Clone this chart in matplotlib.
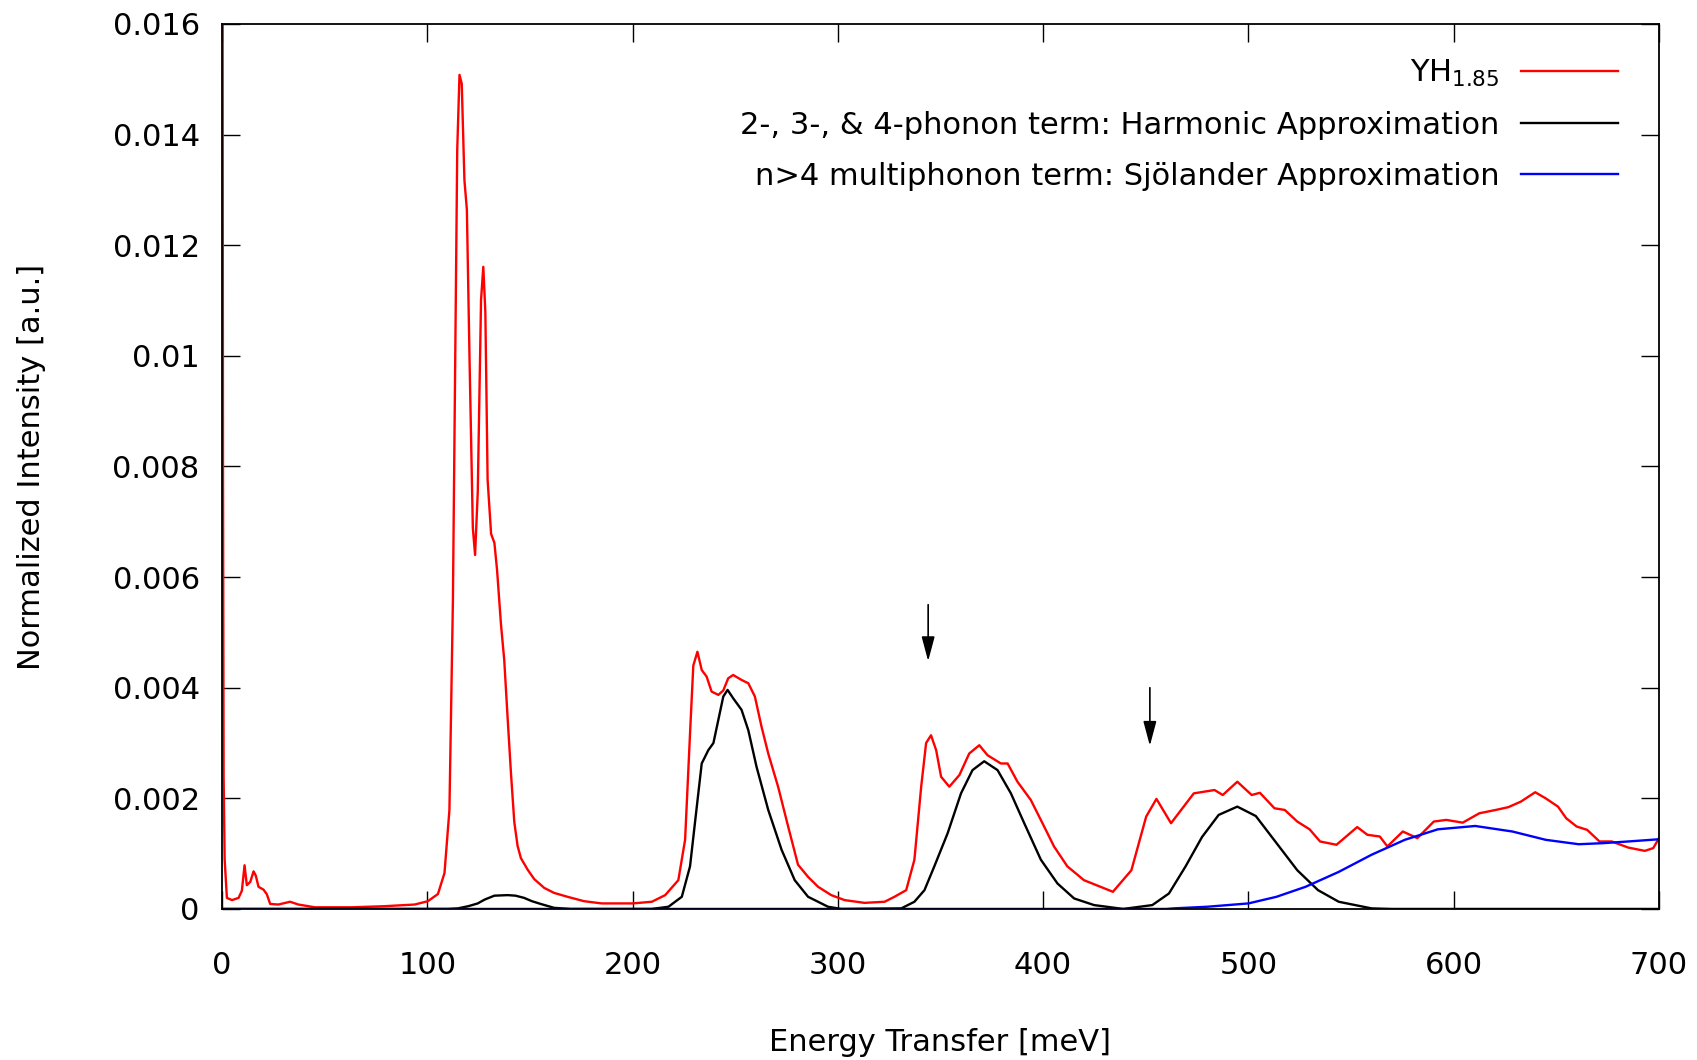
import numpy as np
import matplotlib
matplotlib.use("Agg")
import matplotlib.pyplot as plt

# measured spectrum YH1.85
red_x = [0, 0.5, 0.8, 1.3, 2.4, 4.9, 8.1, 9.7, 11, 12.1, 13.8, 15.4, 16.5, 17.8, 20.2, 21.8,
         23.5, 27.5, 33.2, 37.2, 45.3, 63.1, 79.3, 93.9, 100.3, 105.2, 108.4, 110.8, 112.5,
         113.6, 114.6, 115.7, 116.8, 118.1, 119.3, 120.6, 122.2, 123.3, 124.6, 126.2, 127.3,
         128.3, 129.4, 131.1, 132.7, 134, 135.9, 137.5, 139.2, 140.8, 142.4, 144, 145.6, 148.9,
         152.1, 157, 161.8, 168.3, 176.4, 185, 200, 209.4, 215.9, 222.3, 225.6, 228, 229.6,
         231.6, 233.7, 236.1, 238.5, 241.8, 244.2, 246.6, 249, 253.1, 256.4, 259.6, 262.8,
         266.1, 270.9, 275.8, 280.6, 285.5, 290.4, 296.8, 303.3, 313, 322.8, 327.6, 333.3,
         337.3, 340.6, 343, 345.4, 347.9, 350.3, 354.3, 359.2, 364, 368.9, 372.9, 379.4, 382.7,
         387.5, 394, 400.5, 405.3, 411.8, 419.9, 428, 434, 443, 450.2, 455.2, 462.3, 473.4,
         483.5, 487.5, 494.6, 501.6, 505.6, 512.7, 517.7, 523.8, 529.8, 534.9, 542.9, 553, 558,
         564, 567.7, 575.2, 582.3, 590.3, 596.4, 604.4, 612.5, 620.5, 626.6, 632.7, 639.7,
         644.8, 650.8, 654.8, 659.9, 665, 671, 677, 685, 693.1, 697.2, 700]
red_y = [0.03, 0.008, 0.0024, 0.0009, 0.0002, 0.00016, 0.0002, 0.00033, 0.00079, 0.00043,
         0.00049, 0.00068, 0.0006, 0.0004, 0.00035, 0.00027, 0.00009, 0.00008, 0.00013, 0.00008,
         0.00003, 0.00003, 0.00005, 0.00008, 0.00014, 0.00027, 0.00065, 0.00179, 0.00559,
         0.00993, 0.01372, 0.01508, 0.01492, 0.01318, 0.01264, 0.00993, 0.00689, 0.0064,
         0.00754, 0.01101, 0.01161, 0.01079, 0.00776, 0.00678, 0.00662, 0.00613, 0.00515,
         0.0045, 0.00342, 0.00244, 0.00157, 0.00114, 0.00092, 0.00071, 0.00054, 0.00038,
         0.00029, 0.00022, 0.00014, 0.0001, 0.0001, 0.00013, 0.00025, 0.00052, 0.00125, 0.00317,
         0.0044, 0.00465, 0.00432, 0.0042, 0.00393, 0.00387, 0.00395, 0.00417, 0.00423, 0.00414,
         0.00408, 0.00384, 0.0033, 0.00281, 0.00221, 0.00149, 0.0008, 0.00058, 0.0004, 0.00025,
         0.00016, 0.00011, 0.00013, 0.00022, 0.00034, 0.00089, 0.00221, 0.003, 0.00314, 0.00287,
         0.00239, 0.00221, 0.00242, 0.00281, 0.00296, 0.00278, 0.00263, 0.00263, 0.0023,
         0.00197, 0.00149, 0.00113, 0.00077, 0.00052, 0.0004, 0.00031, 0.0007, 0.00167, 0.00199,
         0.00155, 0.00209, 0.00215, 0.00206, 0.0023, 0.00206, 0.0021, 0.00182, 0.00179, 0.00158,
         0.00144, 0.00122, 0.00116, 0.00148, 0.00134, 0.00131, 0.00113, 0.0014, 0.00128,
         0.00158, 0.00161, 0.00156, 0.00173, 0.00179, 0.00184, 0.00194, 0.00211, 0.002,
         0.00185, 0.00164, 0.00149, 0.00143, 0.00122, 0.00122, 0.00111, 0.00105, 0.0011, 0.00128]

# 2-, 3-, 4-phonon term (harmonic)
harm_x = [0, 110, 114.9, 120, 124.6, 128, 132.7, 139.2, 143, 147.2, 151, 155.3, 161.8, 170,
          209.4, 217.5, 224, 228, 231.3, 233.7, 236.9, 239.4, 241.8, 244.2, 246.3, 249, 253.1,
          256.4, 260.4, 266.1, 272.6, 279, 285.5, 295.2, 301.7, 330.9, 337.3, 342.2, 347, 353.5,
          360, 365.6, 371.3, 377.8, 384.3, 390.8, 398.9, 407, 415.1, 424.8, 439, 453.2, 461.3,
          469.4, 477.4, 485.5, 494.6, 503.6, 513.7, 523.8, 533.9, 544, 560, 570, 700]
harm_y = [0, 0, 0.00001, 0.00005, 0.0001, 0.00017, 0.00024, 0.00025, 0.00024, 0.0002, 0.00014,
          0.00009, 0.00002, 0, 0, 0.00004, 0.00022, 0.00077, 0.00185, 0.00263, 0.00287, 0.003,
          0.00342, 0.00384, 0.00396, 0.00381, 0.0036, 0.00323, 0.00257, 0.00179, 0.00107,
          0.00052, 0.00022, 0.00004, 0, 0.00001, 0.00013, 0.00034, 0.00077, 0.00137, 0.00209,
          0.00251, 0.00267, 0.00251, 0.00209, 0.00155, 0.00089, 0.00046, 0.00019, 0.00007, 0,
          0.00007, 0.00028, 0.00077, 0.0013, 0.0017, 0.00185, 0.00168, 0.00119, 0.0007, 0.00034,
          0.00013, 0.00001, 0, 0]

# n>4 multiphonon term (Sjolander)
sjo_x = [0, 460, 463.3, 480, 500, 513.7, 527.8, 544, 560, 576.2, 592.3, 610.5, 628.6, 644.8,
         660.9, 673, 685, 700]
sjo_y = [0, 0, 0.00001, 0.00004, 0.0001, 0.00022, 0.0004, 0.00067, 0.00098, 0.00125, 0.00144,
         0.0015, 0.0014, 0.00125, 0.00117, 0.00119, 0.00122, 0.00126]

arrow_x = [344, 452]
arrow_top = [0.0055, 0.0040]
arrow_tip = [0.00448, 0.00295]

yticks = [0, 0.002, 0.004, 0.006, 0.008, 0.01, 0.012, 0.014, 0.016]
ytick_labels = ['0', '0.002', '0.004', '0.006', '0.008', '0.01', '0.012', '0.014', '0.016']
xticks = [0, 100, 200, 300, 400, 500, 600, 700]

plt.rcParams['font.family'] = ['DejaVu Sans']
plt.rcParams['font.size'] = 22

fig = plt.figure(figsize=(16.97, 10.60), dpi=100)
ax = fig.add_axes([0.1308, 0.1425, 0.8468, 0.8349])

ax.plot(red_x, red_y, color='#ff0000', lw=1.7, label='YH$_{1.85}$')
ax.plot(harm_x, harm_y, color='black', lw=1.7,
        label='2-, 3-, & 4-phonon term: Harmonic Approximation')
ax.plot(sjo_x, sjo_y, color='#0000ff', lw=1.7,
        label='n>4 multiphonon term: Sjölander Approximation')

for xa, yt, yb in zip(arrow_x, arrow_top, arrow_tip):
    ax.annotate('', xy=(xa, yb), xytext=(xa, yt),
                arrowprops=dict(arrowstyle='-|>,head_length=0.75,head_width=0.2',
                                color='black', lw=1.2, mutation_scale=20,
                                shrinkA=0, shrinkB=0))

ax.set_xlim(0, 700)
ax.set_ylim(0, 0.016)
ax.set_xticks(xticks)
ax.set_yticks(yticks)
ax.set_yticklabels(ytick_labels)
ax.tick_params(direction='in', length=13, width=1, top=True, right=True, labelsize=22)
ax.tick_params(axis='x', pad=30)
ax.tick_params(axis='y', pad=16)
for s in ax.spines.values():
    s.set_linewidth(1.3)

ax.set_xlabel('Energy Transfer [meV]', fontsize=22, labelpad=35)
ax.set_ylabel('Normalized Intensity [a.u.]', fontsize=22, labelpad=48)

leg = ax.legend(loc='upper right', frameon=False, markerfirst=False, handlelength=3.2,
                handletextpad=0.7, labelspacing=0.73, fontsize=22,
                bbox_to_anchor=(0.992, 0.995), borderaxespad=0.55)
for t in leg.get_texts():
    t.set_ha('right')

fig.savefig('out.png', dpi=100)
